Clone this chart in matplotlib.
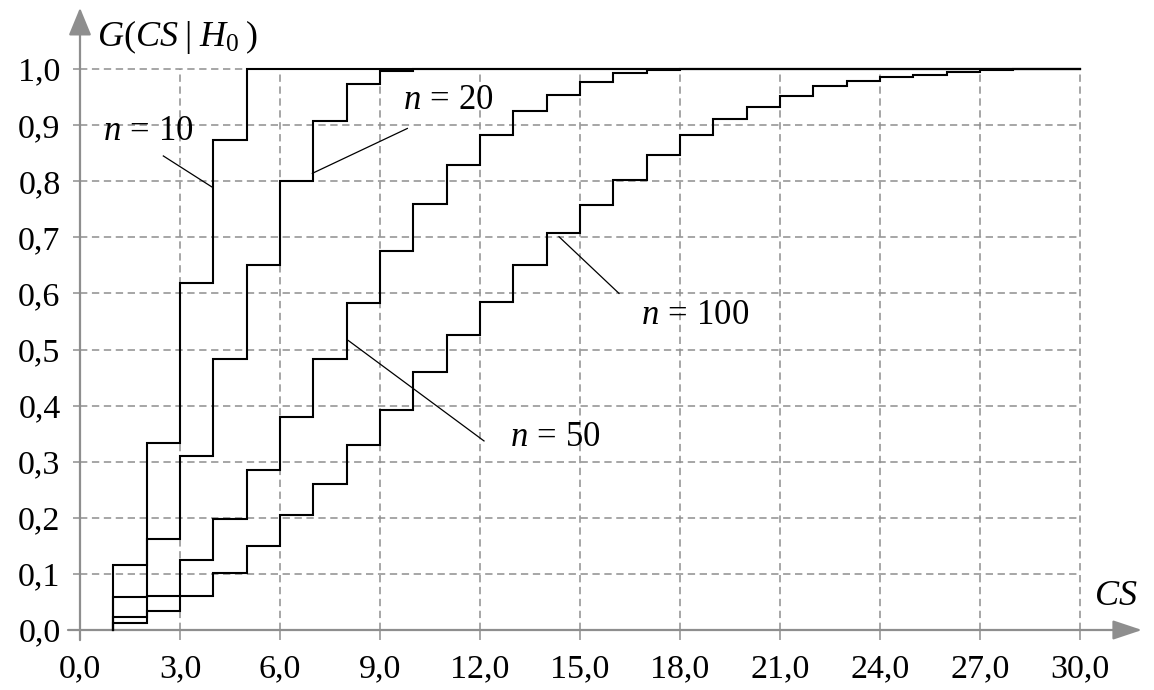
import numpy as np
import matplotlib
matplotlib.use("Agg")
import matplotlib.pyplot as plt

plt.rcParams['font.family'] = ['Liberation Serif', 'DejaVu Serif']
plt.rcParams['mathtext.fontset'] = 'custom'
plt.rcParams['mathtext.rm'] = 'Liberation Serif'
plt.rcParams['mathtext.it'] = 'Liberation Serif:italic'

# ---- data: step levels of G(CS|H0) for CS = 1, 2, 3, ... ----
g_n10 = [0.116, 0.333, 0.618, 0.873, 1.0]
g_n20 = [0.059, 0.162, 0.311, 0.483, 0.650, 0.800, 0.908, 0.973, 0.997, 1.0]
g_n50 = [0.023, 0.061, 0.124, 0.198, 0.285, 0.379, 0.483, 0.582, 0.676, 0.759,
         0.829, 0.882, 0.926, 0.954, 0.976, 0.992, 0.998, 1.0]
g_n100 = [0.012, 0.033, 0.061, 0.101, 0.150, 0.205, 0.261, 0.330, 0.393, 0.460,
          0.526, 0.585, 0.651, 0.708, 0.758, 0.802, 0.847, 0.882, 0.911, 0.933,
          0.951, 0.969, 0.979, 0.986, 0.990, 0.994, 0.998, 1.0]
cs_start = 1
cs_end = 30

labels = [r'$n\,=\,10$', r'$n\,=\,20$', r'$n\,=\,50$', r'$n\,=\,100$']
label_pos = [(2.05, 0.888), (11.04, 0.944), (14.25, 0.344), (18.45, 0.561)]
leader_from = [(2.50, 0.845), (9.82, 0.894), (12.12, 0.337), (16.17, 0.600)]
leader_to = [(3.95, 0.790), (6.97, 0.814), (8.05, 0.516), (14.37, 0.701)]

x_ticks = np.arange(0, 31, 3)
y_ticks = np.round(np.arange(0, 1.01, 0.1), 1)
x_tick_labels = [f"{v:.1f}".replace('.', ',') for v in x_ticks]
y_tick_labels = [f"{v:.1f}".replace('.', ',') for v in y_ticks]

W, H = 1154, 690
fig = plt.figure(figsize=(W / 100, H / 100), dpi=100)
x0_px, y0_px = 80, 630
px_x = 1000 / 30.0
px_y = 561.0
xmax, ymax = 32.0, 1.12
ax = fig.add_axes([x0_px / W, (H - y0_px) / H, xmax * px_x / W, ymax * px_y / H])
ax.set_xlim(0, xmax)
ax.set_ylim(0, ymax)
for s in ax.spines.values():
    s.set_visible(False)

grid_c = '#8e8e8e'
# dashed grid restricted to the data area
ax.hlines(y_ticks[1:], 0, cs_end, colors=grid_c, lw=1.1,
          linestyles=(0, (4.8, 3.0)), zorder=1)
ax.vlines(x_ticks[1:], 0, 1.0, colors=grid_c, lw=1.1,
          linestyles=(0, (4.8, 3.0)), zorder=1)

# axes with arrows
ax.annotate('', xy=(31.86, 0), xytext=(-0.36, 0), xycoords='data',
            arrowprops=dict(arrowstyle='-|>,head_length=0.9,head_width=0.3',
                            color=grid_c, lw=1.6, mutation_scale=20,
                            shrinkA=0, shrinkB=0), annotation_clip=False, zorder=2)
ax.annotate('', xy=(0, 1.109), xytext=(0, -0.018), xycoords='data',
            arrowprops=dict(arrowstyle='-|>,head_length=0.85,head_width=0.35',
                            color=grid_c, lw=1.6, mutation_scale=20,
                            shrinkA=0, shrinkB=0), annotation_clip=False, zorder=2)

ax.set_xticks(x_ticks)
ax.set_xticklabels(x_tick_labels)
ax.set_yticks(y_ticks)
ax.set_yticklabels(y_tick_labels)
ax.tick_params(axis='x', direction='out', length=7, width=1.1, color=grid_c,
               labelsize=24.5, pad=10)
ax.tick_params(axis='y', direction='out', length=5, width=1.1, color=grid_c,
               labelsize=24.5, pad=9)

# step curves
for g in (g_n10, g_n20, g_n50, g_n100):
    cs = np.arange(cs_start, cs_start + len(g))
    xs = np.concatenate([[cs_start], cs, [cs_end]])
    ys = np.concatenate([[0.0], g, [g[-1]]])
    ax.step(xs, ys, where='post', color='black', lw=1.5, zorder=3,
            clip_on=False, solid_joinstyle='miter')

# labels with leader lines
for lab, pos, a, b in zip(labels, label_pos, leader_from, leader_to):
    ax.text(pos[0], pos[1], lab, fontsize=25, ha='center', va='center', zorder=5)
    ax.plot([a[0], b[0]], [a[1], b[1]], color='black', lw=0.9, zorder=4)

ax.text(0.51, 1.057, r'$G(CS\;|\;H_{0}\;)$', fontsize=26,
        ha='left', va='center', clip_on=False)
ax.text(31.08, 0.0606, r'$CS$', fontsize=26, ha='center', va='center',
        clip_on=False)

fig.savefig('out.png', dpi=100)
